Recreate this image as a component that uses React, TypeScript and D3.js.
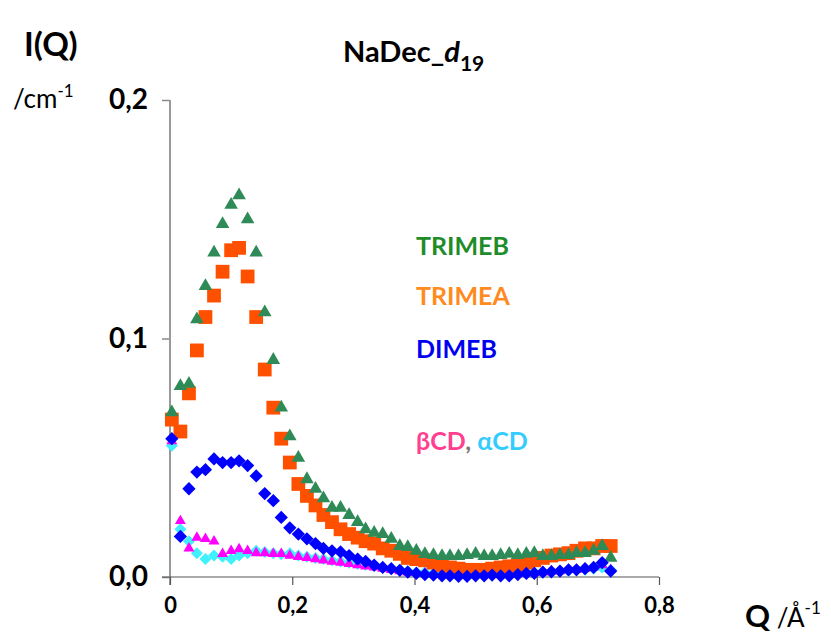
import React, { useRef, useEffect } from 'react'
import * as d3 from 'd3'

// Q grid (Å-1) shared by all series
const qValues = [
  0.003, 0.017, 0.031, 0.044, 0.058, 0.072, 0.086, 0.100, 0.113, 0.127,
  0.141, 0.155, 0.169, 0.182, 0.196, 0.210, 0.224, 0.238, 0.251, 0.265,
  0.279, 0.293, 0.307, 0.320, 0.334, 0.348, 0.362, 0.376, 0.389, 0.403,
  0.417, 0.431, 0.445, 0.458, 0.472, 0.486, 0.500, 0.514, 0.527, 0.541,
  0.555, 0.569, 0.583, 0.596, 0.610, 0.624, 0.638, 0.652, 0.665, 0.679,
  0.693, 0.707, 0.721,
]

const trimeb = [
  0.069, 0.080, 0.081, 0.108, 0.122, 0.136, 0.148, 0.156, 0.160, 0.150,
  0.136, 0.111, 0.091, 0.071, 0.059, 0.050, 0.041, 0.037, 0.033, 0.029,
  0.029, 0.026, 0.023, 0.020, 0.0185, 0.018, 0.016, 0.013, 0.0125, 0.011,
  0.0096, 0.0092, 0.0088, 0.0088, 0.0088, 0.0092, 0.0097, 0.0088, 0.0088, 0.0092,
  0.0097, 0.0092, 0.0097, 0.010, 0.0088, 0.0088, 0.0092, 0.0092, 0.010, 0.010,
  0.011, 0.013, 0.008,
]

const trimea = [
  0.066, 0.061, 0.077, 0.095, 0.109, 0.118, 0.128, 0.137, 0.138, 0.126,
  0.109, 0.087, 0.071, 0.058, 0.048, 0.039, 0.034, 0.030, 0.026, 0.023,
  0.020, 0.018, 0.0165, 0.015, 0.014, 0.012, 0.011, 0.0097, 0.008, 0.0075,
  0.007, 0.006, 0.005, 0.004, 0.0035, 0.003, 0.003, 0.003, 0.0035, 0.004,
  0.0045, 0.005, 0.006, 0.007, 0.008, 0.009, 0.0095, 0.010, 0.011, 0.012,
  0.012, 0.013, 0.013,
]

const dimeb = [
  0.058, 0.017, 0.037, 0.044, 0.045, 0.0495, 0.048, 0.048, 0.0487, 0.0467,
  0.0424, 0.035, 0.032, 0.025, 0.0206, 0.018, 0.016, 0.014, 0.012, 0.011,
  0.0105, 0.009, 0.0075, 0.0065, 0.005, 0.004, 0.0035, 0.0028, 0.002, 0.0015,
  0.001, 0.0008, 0.0005, 0.0005, 0.0003, 0.0003, 0.0005, 0.0005, 0.0008, 0.0005,
  0.0005, 0.001, 0.0015, 0.0015, 0.002, 0.0022, 0.0025, 0.003, 0.003, 0.0035,
  0.004, 0.006, 0.0025,
]

const betaCD = [
  0.057, 0.0235, 0.012, 0.0165, 0.016, 0.015, 0.0097, 0.011, 0.0117, 0.011,
  0.010, 0.010, 0.0097, 0.0097, 0.009, 0.0085, 0.008, 0.0075, 0.007, 0.0065,
  0.006, 0.0055, 0.005, 0.0045, 0.004, 0.0035, 0.003, 0.0025, 0.002, 0.0018,
  0.0015, 0.0012, 0.001, 0.001, 0.0008, 0.0008, 0.001, 0.001, 0.001, 0.0012,
  0.0012, 0.0015, 0.0015, 0.002, 0.002, 0.0025, 0.0025, 0.003, 0.003, 0.0035,
  0.004, 0.005, 0.003,
]

const alphaCD = [
  0.055, 0.020, 0.015, 0.010, 0.0075, 0.009, 0.0085, 0.0075, 0.009, 0.010,
  0.011, 0.0105, 0.010, 0.0095, 0.010, 0.009, 0.0085, 0.008, 0.0075, 0.007,
  0.0065, 0.006, 0.0055, 0.005, 0.0045, 0.004, 0.0035, 0.003, 0.0025, 0.002,
  0.002, 0.0015, 0.0015, 0.001, 0.001, 0.001, 0.001, 0.0012, 0.0012, 0.0012,
  0.0015, 0.0015, 0.0015, 0.002, 0.002, 0.002, 0.0025, 0.0025, 0.003, 0.003,
  0.0035, 0.004, 0.003,
]

const xTicks = [0, 0.2, 0.4, 0.6, 0.8]
const yTicks = [0, 0.1, 0.2]

const FONT = "Lato, 'Open Sans', sans-serif"

export default function App() {
  const visEl = useRef<SVGSVGElement | null>(null)
  const width = 831
  const height = 635

  useEffect(() => {
    const svg = d3.select(visEl.current)
    svg.selectAll('*').remove()

    const xScale = d3.scaleLinear().domain([0, 0.8]).range([170, 659])
    const yScale = d3.scaleLinear().domain([0, 0.2]).range([577, 100])
    const fmt = (d: number) => d3.format('.1f')(d).replace('.', ',')

    // y axis
    const yAxisG = svg.append('g')
      .attr('transform', 'translate(170,0)')
      .call(d3.axisLeft(yScale).tickValues(yTicks).tickSize(8).tickPadding(14).tickFormat(d => fmt(+d)))
    yAxisG.select('.domain').remove()
    yAxisG.selectAll('line').attr('stroke', '#888').attr('stroke-width', 1.5)
    yAxisG.selectAll('text')
      .attr('font-family', FONT).attr('font-weight', 'bold').attr('font-size', 28).attr('fill', '#000')
    svg.append('line')
      .attr('x1', 170).attr('x2', 170).attr('y1', yScale(0.2)).attr('y2', 585)
      .attr('stroke', '#999').attr('stroke-width', 2)

    // x axis
    const xAxisG = svg.append('g')
      .attr('transform', `translate(0,${yScale(0)})`)
      .call(d3.axisBottom(xScale).tickValues(xTicks).tickSize(8).tickPadding(12)
        .tickFormat(d => (+d === 0 ? '0' : fmt(+d))))
    xAxisG.select('.domain').attr('d', `M162,0H${xScale(0.8)}`).attr('stroke', '#555').attr('stroke-width', 1.2)
    xAxisG.selectAll('line').attr('stroke', '#555').attr('stroke-width', 1.2)
    xAxisG.selectAll('text')
      .attr('font-family', FONT).attr('font-weight', 'bold').attr('font-size', 22).attr('fill', '#000')

    const plot = svg.append('g')
    const seriesList = [
      { values: alphaCD, type: 'diamond', size: 72, color: '#3FF0FF' },
      { values: betaCD, type: 'triangle', size: 52, color: '#FF00FF' },
      { values: trimea, type: 'square', size: 190, color: '#FF5000' },
      { values: trimeb, type: 'triangle', size: 80, color: '#2E8B57' },
      { values: dimeb, type: 'diamond', size: 88, color: '#0000FF' },
    ]
    seriesList.forEach(s => {
      const sym = d3.symbol()
        .type(s.type === 'triangle' ? d3.symbolTriangle : d3.symbolSquare)
        .size(s.size)
      plot.append('g').selectAll('path')
        .data(s.values)
        .enter().append('path')
        .attr('d', sym() as string)
        .attr('fill', s.color)
        .attr('transform', (d, i) => {
          const base = `translate(${xScale(qValues[i])},${yScale(d)})`
          return s.type === 'diamond' ? base + ' rotate(45)' : base
        })
    })

    // titles
    svg.append('text').attr('x', 24).attr('y', 56)
      .attr('font-family', FONT).attr('font-weight', 'bold').attr('font-size', 33).text('I(Q)')
    const unit = svg.append('text').attr('x', 13).attr('y', 108)
      .attr('font-family', FONT).attr('font-size', 26)
    unit.append('tspan').text('/cm')
    unit.append('tspan').attr('dy', -11).attr('font-size', 17).text('-1')

    const title = svg.append('text').attr('x', 343).attr('y', 62)
      .attr('font-family', FONT).attr('font-weight', 'bold').attr('font-size', 29)
    title.append('tspan').text('NaDec_')
    title.append('tspan').attr('font-style', 'italic').text('d')
    title.append('tspan').attr('dy', 9).attr('font-size', 21).text('19')

    const qLab = svg.append('text').attr('x', 745).attr('y', 627).attr('font-family', FONT)
    qLab.append('tspan').attr('font-weight', 'bold').attr('font-size', 31).text('Q')
    qLab.append('tspan').attr('font-size', 26).text(' /Å')
    qLab.append('tspan').attr('dy', -13).attr('font-size', 17).text('-1')

    // in-plot legend
    const leg = [
      { label: 'TRIMEB', color: '#1E8C28', y: 255 },
      { label: 'TRIMEA', color: '#FF8A1E', y: 305 },
      { label: 'DIMEB', color: '#0000F0', y: 358 },
    ]
    leg.forEach(l => {
      svg.append('text').attr('x', 416).attr('y', l.y)
        .attr('font-family', FONT).attr('font-weight', 'bold').attr('font-size', 25)
        .attr('fill', l.color).text(l.label)
    })
    const cd = svg.append('text').attr('x', 416).attr('y', 450)
      .attr('font-family', FONT).attr('font-weight', 'bold').attr('font-size', 25)
    cd.append('tspan').attr('fill', '#FF3F8F').text('βCD')
    cd.append('tspan').attr('fill', '#777').text(', ')
    cd.append('tspan').attr('fill', '#33CCFF').text('αCD')
  }, [])

  return (
    <div>
      <svg ref={visEl} width={width} height={height}
        style={{ position: 'absolute', left: 0, top: 0, background: '#fff' }} />
    </div>
  )
}
